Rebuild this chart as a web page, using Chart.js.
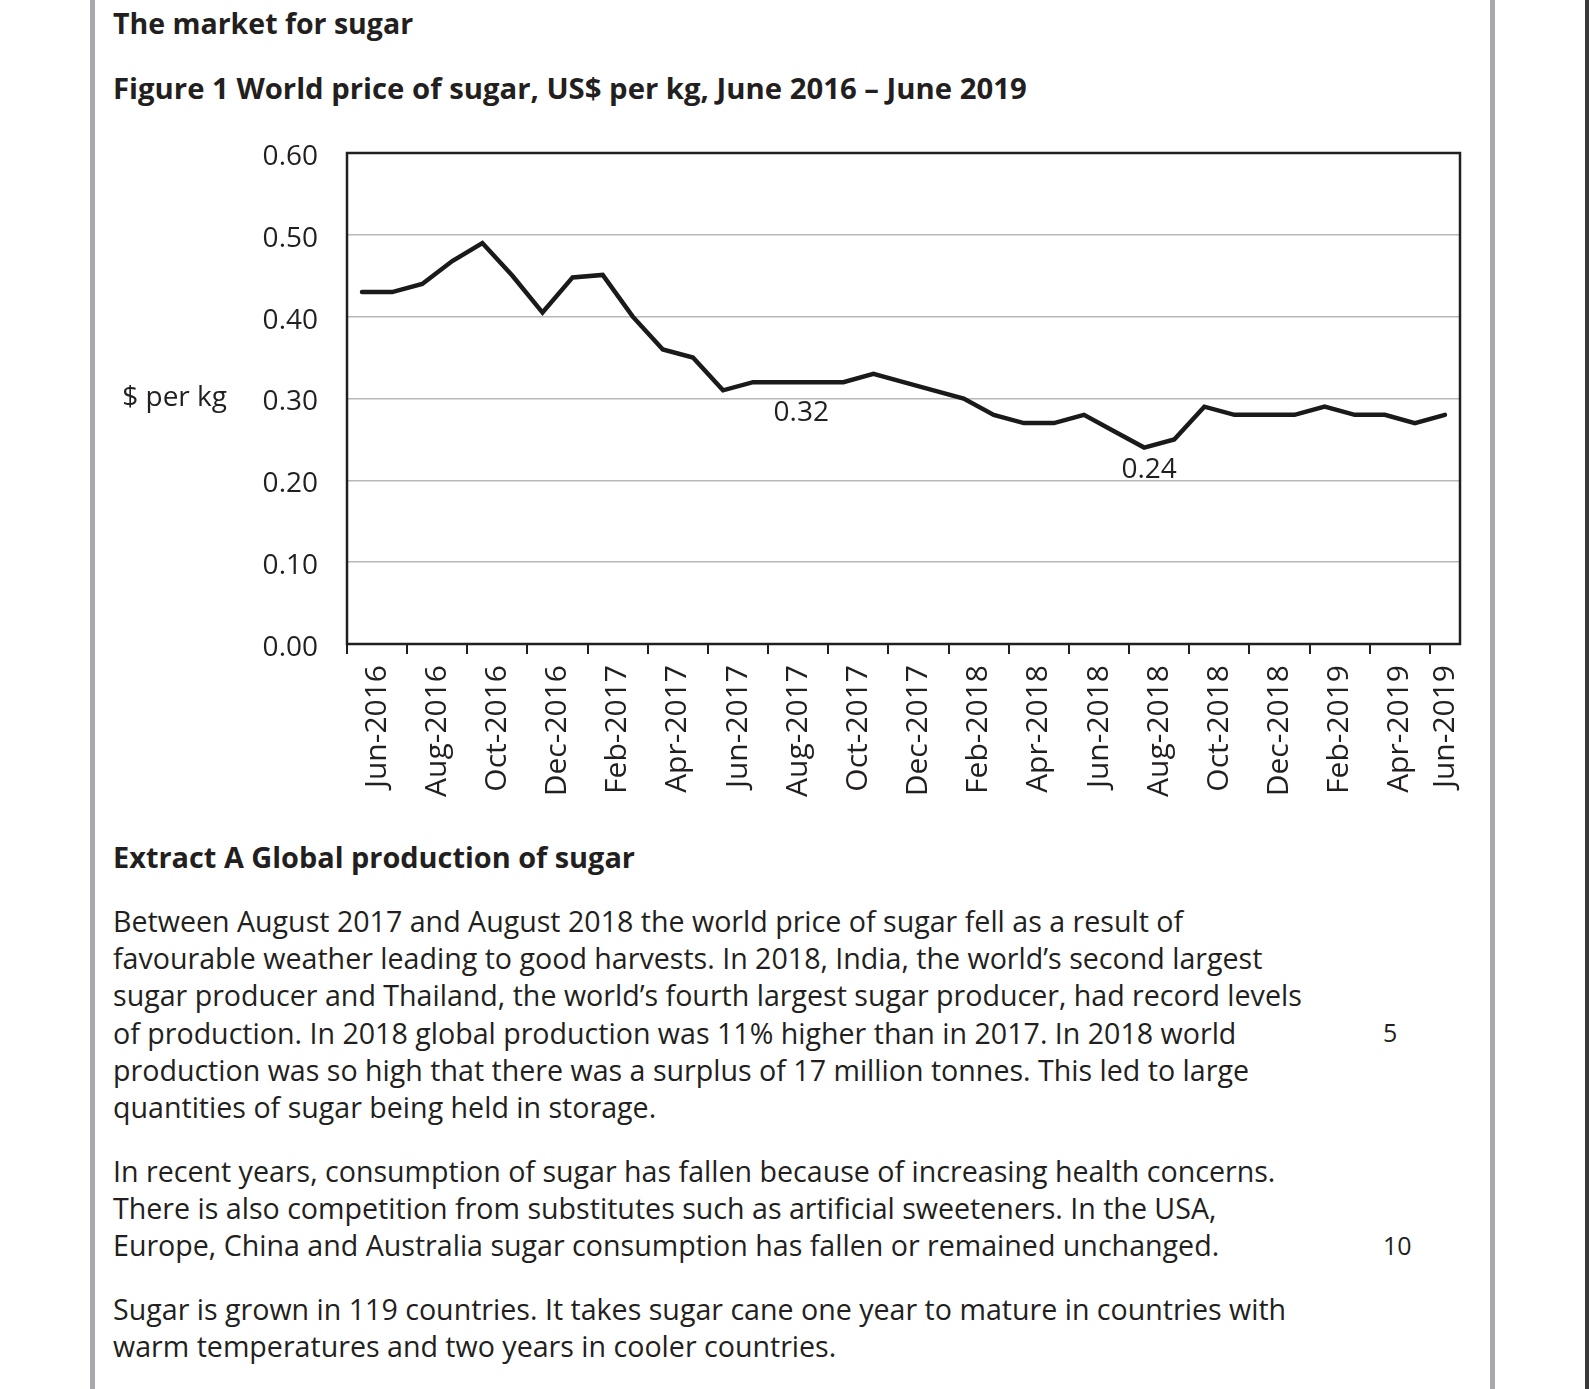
<!DOCTYPE html>
<html>
<head>
<meta charset="utf-8">
<script src="https://cdn.jsdelivr.net/npm/chart.js@4.4.1/dist/chart.umd.min.js"></script>
<style>
  html, body { margin: 0; padding: 0; background: #fff; }
  body { width: 1589px; height: 1389px; position: relative; overflow: hidden;
         font-family: "Open Sans", sans-serif; color: #231f20; }
  .bar-l { position: absolute; left: 90px; top: 0; width: 5px; height: 1389px; background: #a7a9ac; }
  .bar-r { position: absolute; left: 1490px; top: 0; width: 5px; height: 1389px; background: #a7a9ac; }
  .edge { position: absolute; left: 1585px; top: 0; width: 4px; height: 1389px; background: #3a3a3a; }
  .h { position: absolute; left: 113px; font-weight: 700; font-size: 29px; line-height: 40px; white-space: nowrap; }
  .p { position: absolute; left: 113px; font-size: 28.6px; line-height: 37.2px; white-space: nowrap; }
  .ln { position: absolute; left: 1383px; font-size: 25px; line-height: 37.2px; }
  #wrap { position: absolute; left: 0; top: 0; width: 1589px; height: 830px; }
</style>
</head>
<body>
<div class="bar-l"></div>
<div class="bar-r"></div>
<div class="edge"></div>

<div class="h" style="top:3px;font-size:28.5px">The market for sugar</div>
<div class="h" style="top:68px;font-size:29.3px">Figure 1 World price of sugar, US$ per kg, June 2016 – June 2019</div>

<div id="wrap"><canvas id="chart" width="1589" height="830"></canvas></div>

<div class="h" style="top:837px;font-size:28.9px">Extract A Global production of sugar</div>

<div class="p" style="top:902px">Between August 2017 and August 2018 the world price of sugar fell as a result of<br>favourable weather leading to good harvests. In 2018, India, the world’s second largest<br>sugar producer and Thailand, the world’s fourth largest sugar producer, had record levels<br>of production. In 2018 global production was 11% higher than in 2017. In 2018 world<br>production was so high that there was a surplus of 17 million tonnes. This led to large<br>quantities of sugar being held in storage.</div>
<div class="ln" style="top:1014px">5</div>

<div class="p" style="top:1152px">In recent years, consumption of sugar has fallen because of increasing health concerns.<br>There is also competition from substitutes such as artificial sweeteners. In the USA,<br>Europe, China and Australia sugar consumption has fallen or remained unchanged.</div>
<div class="ln" style="top:1227px">10</div>

<div class="p" style="top:1290px">Sugar is grown in 119 countries. It takes sugar cane one year to mature in countries with<br>warm temperatures and two years in cooler countries.</div>

<script>
const months = [
  'Jun-2016', 'Jul-2016', 'Aug-2016', 'Sep-2016', 'Oct-2016', 'Nov-2016', 'Dec-2016',
  'Jan-2017', 'Feb-2017', 'Mar-2017', 'Apr-2017', 'May-2017', 'Jun-2017', 'Jul-2017',
  'Aug-2017', 'Sep-2017', 'Oct-2017', 'Nov-2017', 'Dec-2017', 'Jan-2018', 'Feb-2018',
  'Mar-2018', 'Apr-2018', 'May-2018', 'Jun-2018', 'Jul-2018', 'Aug-2018', 'Sep-2018',
  'Oct-2018', 'Nov-2018', 'Dec-2018', 'Jan-2019', 'Feb-2019', 'Mar-2019', 'Apr-2019',
  'May-2019', 'Jun-2019'
];

const price = [
  0.43, 0.43, 0.44, 0.468, 0.49, 0.45, 0.405,
  0.448, 0.451, 0.40, 0.36, 0.35, 0.31, 0.32,
  0.32, 0.32, 0.32, 0.33, 0.32, 0.31, 0.30,
  0.28, 0.27, 0.27, 0.28, 0.26, 0.24, 0.25,
  0.29, 0.28, 0.28, 0.28, 0.29, 0.28, 0.28,
  0.27, 0.28
];

const yTicks = [0, 0.1, 0.2, 0.3, 0.4, 0.5, 0.6];

// labels written on the line
const noteText = ['0.32', '0.24'];
const noteAt = [14.5, 26];
const noteValue = [0.32, 0.24];

const ink = '#231f20';
const tickFont = { family: 'Open Sans', size: 28 };

const frame = {
  id: 'frame',
  beforeDraw(chart) {
    // the last month label sits on its own point, not between ticks
    const items = chart.scales.x.getLabelItems();
    if (items.length) items[items.length - 1].options.translation[0] -= 15;
  },
  beforeDatasetsDraw(chart) {
    const a = chart.chartArea;
    const ctx = chart.ctx;
    ctx.save();
    ctx.strokeStyle = ink;
    ctx.lineWidth = 2.5;
    ctx.strokeRect(a.left, a.top, a.right - a.left, a.bottom - a.top);
    ctx.restore();
  },
  afterDatasetsDraw(chart) {
    const ctx = chart.ctx;
    const x = chart.scales.x, y = chart.scales.y;
    ctx.save();
    ctx.fillStyle = ink;
    ctx.font = '28px "Open Sans"';
    ctx.textAlign = 'center';
    ctx.textBaseline = 'middle';
    ctx.fillText(noteText[0], x.getPixelForValue(noteAt[0]) + 3, y.getPixelForValue(noteValue[0]) + 31);
    ctx.fillText(noteText[1], x.getPixelForValue(noteAt[1]) + 5, y.getPixelForValue(noteValue[1]) + 22);
    // axis title, level with 0.30
    ctx.textAlign = 'right';
    ctx.fillText('$ per kg', chart.chartArea.left - 120, y.getPixelForValue(0.3));
    ctx.restore();
  }
};

new Chart(document.getElementById('chart'), {
  type: 'line',
  data: {
    labels: months,
    datasets: [{
      data: price,
      borderColor: '#1a1a1a',
      borderWidth: 4.5,
      pointRadius: 0,
      tension: 0,
      borderCapStyle: 'round',
      borderJoinStyle: 'miter'
    }]
  },
  options: {
    responsive: false,
    animation: false,
    devicePixelRatio: 1,
    layout: { padding: { left: 197, right: 129, top: 153, bottom: 16 } },
    plugins: { legend: { display: false }, tooltip: { enabled: false } },
    scales: {
      x: {
        offset: true,
        grid: {
          offset: true,
          drawOnChartArea: false,
          tickLength: 10,
          lineWidth: 2,
          color: c => c.index % 2 === 0 ? ink : 'rgba(0,0,0,0)'
        },
        border: { display: false },
        ticks: {
          autoSkip: false,
          minRotation: 90,
          maxRotation: 90,
          labelOffset: 15,
          padding: 11,
          color: ink,
          font: { family: 'Open Sans', size: 30 },
          callback: (v, i) => i % 2 === 0 ? months[i] : ''
        },
        afterFit: s => { s.height = 170; }
      },
      y: {
        min: 0,
        max: 0.6,
        afterBuildTicks: s => { s.ticks = yTicks.map(v => ({ value: v })); },
        grid: { color: '#b8b8b8', lineWidth: 1.5, drawTicks: false },
        border: { display: false },
        ticks: {
          padding: 29,
          labelOffset: 4,
          color: ink,
          font: tickFont,
          callback: v => v.toFixed(2)
        },
        afterFit: s => { s.width = 150; }
      }
    }
  },
  plugins: [frame]
});
</script>
</body>
</html>
